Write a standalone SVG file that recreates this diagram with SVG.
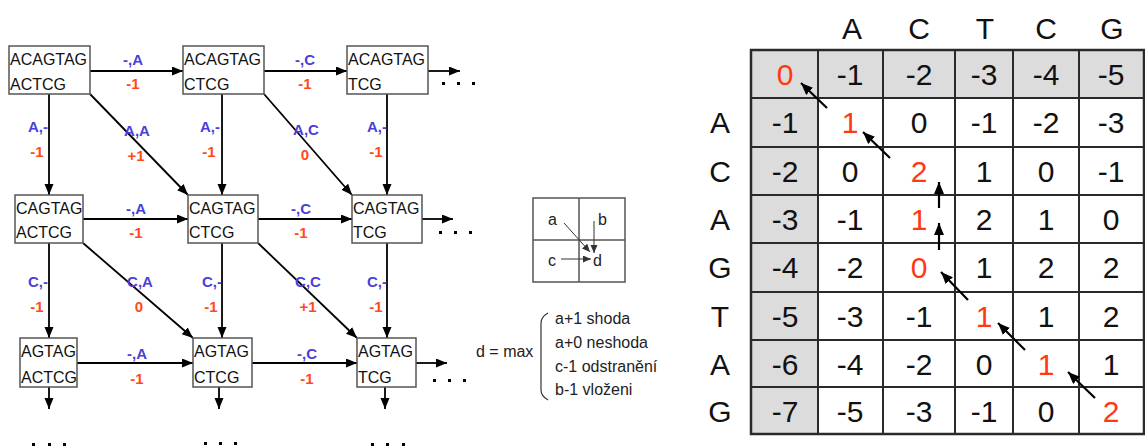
<svg xmlns="http://www.w3.org/2000/svg" width="1145" height="448" viewBox="0 0 1145 448">
<style>
.box{fill:#fff;stroke:#555;stroke-width:1.5}
.bt{font-family:"Liberation Sans",Arial,sans-serif;font-size:16px;fill:#111}
.lb{font-family:"Liberation Sans",Arial,sans-serif;font-size:15px;font-weight:bold;fill:#4a3fd8;text-anchor:middle}
.lr{font-family:"Liberation Sans",Arial,sans-serif;font-size:15px;font-weight:bold;fill:#ff4a1a;text-anchor:middle}
.e{stroke:#000;stroke-width:1.8;fill:none;marker-end:url(#ah)}
.le{stroke:#333;stroke-width:1;fill:none;marker-end:url(#sh)}
.lt{font-family:"Liberation Sans",Arial,sans-serif;font-size:16px;fill:#222}
.lg{fill:none;stroke:#555;stroke-width:1.5}
.cell{fill:#fff;stroke:#2a2a2a;stroke-width:2}
.g{fill:#dcdcdc}
.mt{font-family:"Liberation Sans",Arial,sans-serif;font-size:30px;fill:#111;text-anchor:middle}
.red{fill:#ff3a12}
.ma{stroke:#000;stroke-width:2.2;fill:none;marker-end:url(#mh)}
.dot{fill:#000}
</style>
<defs>
<marker id="ah" markerUnits="userSpaceOnUse" markerWidth="12" markerHeight="10" refX="11" refY="4.5" orient="auto"><path d="M0,0 L11,4.5 L0,9 z" fill="#000"/></marker>
<marker id="sh" markerUnits="userSpaceOnUse" markerWidth="9" markerHeight="8" refX="8" refY="3.5" orient="auto"><path d="M0,0 L8,3.5 L0,7 z" fill="#333"/></marker>
<marker id="mh" markerUnits="userSpaceOnUse" markerWidth="13" markerHeight="11" refX="12" refY="5" orient="auto"><path d="M0,0 L12,5 L0,10 z" fill="#000"/></marker>
</defs>

<g id="connectors">
<!-- horizontal -->
<line class="e" x1="90" y1="71" x2="183" y2="71"/>
<line class="e" x1="264" y1="71" x2="347" y2="71"/>
<line class="e" x1="428" y1="71" x2="460" y2="71"/>
<line class="e" x1="83" y1="219" x2="188" y2="219"/>
<line class="e" x1="258" y1="219" x2="352" y2="219"/>
<line class="e" x1="422" y1="219" x2="453" y2="219"/>
<line class="e" x1="77" y1="363" x2="193" y2="363"/>
<line class="e" x1="252" y1="363" x2="357" y2="363"/>
<line class="e" x1="416" y1="363" x2="447" y2="363"/>
<!-- vertical -->
<line class="e" x1="49" y1="94" x2="49" y2="195"/>
<line class="e" x1="222" y1="94" x2="222" y2="195"/>
<line class="e" x1="387" y1="94" x2="387" y2="195"/>
<line class="e" x1="49" y1="243" x2="49" y2="338"/>
<line class="e" x1="222" y1="243" x2="222" y2="338"/>
<line class="e" x1="387" y1="243" x2="387" y2="338"/>
<line class="e" x1="49" y1="387" x2="49" y2="409"/>
<line class="e" x1="219" y1="387" x2="219" y2="409"/>
<line class="e" x1="385" y1="387" x2="385" y2="409"/>
<!-- diagonal -->
<line class="e" x1="90" y1="94" x2="188" y2="195"/>
<line class="e" x1="264" y1="94" x2="352" y2="195"/>
<line class="e" x1="83" y1="243" x2="193" y2="338"/>
<line class="e" x1="258" y1="243" x2="357" y2="338"/>
</g>

<g id="edge-labels">
<text class="lb" x="133" y="65">-,A</text><text class="lr" x="133" y="89">-1</text>
<text class="lb" x="305" y="65">-,C</text><text class="lr" x="305" y="89">-1</text>
<text class="lb" x="136" y="214">-,A</text><text class="lr" x="136" y="238">-1</text>
<text class="lb" x="301" y="214">-,C</text><text class="lr" x="301" y="238">-1</text>
<text class="lb" x="137" y="359">-,A</text><text class="lr" x="137" y="384">-1</text>
<text class="lb" x="307" y="359">-,C</text><text class="lr" x="307" y="384">-1</text>

<text class="lb" x="38" y="132">A,-</text><text class="lr" x="37" y="157">-1</text>
<text class="lb" x="137" y="136">A,A</text><text class="lr" x="136" y="161">+1</text>
<text class="lb" x="210" y="132">A,-</text><text class="lr" x="209" y="157">-1</text>
<text class="lb" x="306" y="135">A,C</text><text class="lr" x="305" y="160">0</text>
<text class="lb" x="377" y="132">A,-</text><text class="lr" x="376" y="157">-1</text>

<text class="lb" x="38" y="287">C,-</text><text class="lr" x="37" y="312">-1</text>
<text class="lb" x="140" y="287">C,A</text><text class="lr" x="139" y="312">0</text>
<text class="lb" x="212" y="287">C,-</text><text class="lr" x="211" y="312">-1</text>
<text class="lb" x="308" y="287">C,C</text><text class="lr" x="308" y="312">+1</text>
<text class="lb" x="377" y="287">C,-</text><text class="lr" x="376" y="312">-1</text>
</g>

<g id="n11"><rect class="box" x="9" y="46" width="81" height="48"/><text class="bt" x="10" y="65">ACAGTAG</text><text class="bt" x="10" y="90">ACTCG</text></g>
<g id="n12"><rect class="box" x="183" y="46" width="81" height="48"/><text class="bt" x="184" y="65">ACAGTAG</text><text class="bt" x="184" y="90">CTCG</text></g>
<g id="n13"><rect class="box" x="347" y="46" width="81" height="48"/><text class="bt" x="348" y="65">ACAGTAG</text><text class="bt" x="348" y="90">TCG</text></g>
<g id="n21"><rect class="box" x="15" y="195" width="68" height="48"/><text class="bt" x="16" y="214">CAGTAG</text><text class="bt" x="16" y="238">ACTCG</text></g>
<g id="n22"><rect class="box" x="188" y="195" width="70" height="48"/><text class="bt" x="189" y="214">CAGTAG</text><text class="bt" x="189" y="238">CTCG</text></g>
<g id="n23"><rect class="box" x="352" y="195" width="70" height="48"/><text class="bt" x="353" y="214">CAGTAG</text><text class="bt" x="353" y="238">TCG</text></g>
<g id="n31"><rect class="box" x="20" y="338" width="57" height="49"/><text class="bt" x="21" y="357">AGTAG</text><text class="bt" x="21" y="383">ACTCG</text></g>
<g id="n32"><rect class="box" x="193" y="338" width="59" height="49"/><text class="bt" x="194" y="357">AGTAG</text><text class="bt" x="194" y="383">CTCG</text></g>
<g id="n33"><rect class="box" x="357" y="338" width="59" height="49"/><text class="bt" x="358" y="357">AGTAG</text><text class="bt" x="358" y="383">TCG</text></g>

<g id="ellipses">
<rect class="dot" x="442" y="82" width="3" height="3"/><rect class="dot" x="457" y="82" width="3" height="3"/><rect class="dot" x="472" y="82" width="3" height="3"/>
<rect class="dot" x="439" y="231" width="3" height="3"/><rect class="dot" x="454" y="231" width="3" height="3"/><rect class="dot" x="469" y="231" width="3" height="3"/>
<rect class="dot" x="433" y="379" width="3" height="3"/><rect class="dot" x="448" y="379" width="3" height="3"/><rect class="dot" x="463" y="379" width="3" height="3"/>
<rect class="dot" x="32" y="443" width="3" height="3"/><rect class="dot" x="48" y="443" width="3" height="3"/><rect class="dot" x="63" y="443" width="3" height="3"/>
<rect class="dot" x="204" y="442" width="3" height="3"/><rect class="dot" x="219" y="442" width="3" height="3"/><rect class="dot" x="234" y="442" width="3" height="3"/>
<rect class="dot" x="371" y="443" width="3" height="3"/><rect class="dot" x="386" y="443" width="3" height="3"/><rect class="dot" x="402" y="443" width="3" height="3"/>
</g>

<g id="legend">
<rect class="lg" x="533" y="198" width="92" height="84"/>
<line class="lg" x1="579" y1="198" x2="579" y2="282"/>
<line class="lg" x1="533" y1="240" x2="625" y2="240"/>
<text class="lt" x="548" y="225">a</text>
<text class="lt" x="598" y="225">b</text>
<text class="lt" x="548" y="266">c</text>
<text class="lt" x="593" y="266">d</text>
<line class="le" x1="564" y1="223" x2="590" y2="252"/>
<line class="le" x1="594" y1="221" x2="594" y2="253"/>
<line class="le" x1="561" y1="259" x2="591" y2="259"/>
</g>

<g id="formula">
<text class="lt" x="476" y="357">d = max</text>
<path d="M548,313 Q541,317 541,323 L541,390 Q541,396 548,400" fill="none" stroke="#333" stroke-width="1.2"/>
<text class="lt" x="555" y="324">a+1 shoda</text>
<text class="lt" x="555" y="348">a+0 neshoda</text>
<text class="lt" x="555" y="372">c-1 odstranění</text>
<text class="lt" x="555" y="395">b-1 vloženi</text>
</g>

<g id="matrix">
<g id="headers">
<text class="mt" x="852" y="39">A</text>
<text class="mt" x="919" y="39">C</text>
<text class="mt" x="985" y="39">T</text>
<text class="mt" x="1046" y="39">C</text>
<text class="mt" x="1112" y="39">G</text>
<text class="mt" x="720" y="133">A</text>
<text class="mt" x="720" y="182">C</text>
<text class="mt" x="720" y="230">A</text>
<text class="mt" x="720" y="278">G</text>
<text class="mt" x="720" y="327">T</text>
<text class="mt" x="720" y="375">A</text>
<text class="mt" x="720" y="422">G</text>
</g>
<g id="grid">
<rect x="751" y="50" width="393" height="48" class="g"/>
<rect x="751" y="98" width="67" height="336" class="g"/>
<g fill="none" stroke="#2a2a2a" stroke-width="2">
<rect x="751" y="50" width="393" height="384" stroke-width="2.5"/>
<line x1="818" y1="50" x2="818" y2="434"/>
<line x1="883" y1="50" x2="883" y2="434"/>
<line x1="955" y1="50" x2="955" y2="434"/>
<line x1="1013" y1="50" x2="1013" y2="434"/>
<line x1="1079" y1="50" x2="1079" y2="434"/>
<line x1="751" y1="98" x2="1144" y2="98"/>
<line x1="751" y1="147" x2="1144" y2="147"/>
<line x1="751" y1="195" x2="1144" y2="195"/>
<line x1="751" y1="243" x2="1144" y2="243"/>
<line x1="751" y1="292" x2="1144" y2="292"/>
<line x1="751" y1="340" x2="1144" y2="340"/>
<line x1="751" y1="387" x2="1144" y2="387"/>
</g>
</g>
<g id="values">
<text class="mt red" x="785" y="85">0</text><text class="mt" x="850" y="85">-1</text><text class="mt" x="919" y="85">-2</text><text class="mt" x="984" y="85">-3</text><text class="mt" x="1046" y="85">-4</text><text class="mt" x="1111" y="85">-5</text>
<text class="mt" x="785" y="133">-1</text><text class="mt red" x="850" y="133">1</text><text class="mt" x="919" y="133">0</text><text class="mt" x="984" y="133">-1</text><text class="mt" x="1046" y="133">-2</text><text class="mt" x="1111" y="133">-3</text>
<text class="mt" x="785" y="182">-2</text><text class="mt" x="850" y="182">0</text><text class="mt red" x="919" y="182">2</text><text class="mt" x="984" y="182">1</text><text class="mt" x="1046" y="182">0</text><text class="mt" x="1111" y="182">-1</text>
<text class="mt" x="785" y="230">-3</text><text class="mt" x="850" y="230">-1</text><text class="mt red" x="919" y="230">1</text><text class="mt" x="984" y="230">2</text><text class="mt" x="1046" y="230">1</text><text class="mt" x="1111" y="230">0</text>
<text class="mt" x="785" y="278">-4</text><text class="mt" x="850" y="278">-2</text><text class="mt red" x="919" y="278">0</text><text class="mt" x="984" y="278">1</text><text class="mt" x="1046" y="278">2</text><text class="mt" x="1111" y="278">2</text>
<text class="mt" x="785" y="327">-5</text><text class="mt" x="850" y="327">-3</text><text class="mt" x="919" y="327">-1</text><text class="mt red" x="984" y="327">1</text><text class="mt" x="1046" y="327">1</text><text class="mt" x="1111" y="327">2</text>
<text class="mt" x="785" y="375">-6</text><text class="mt" x="850" y="375">-4</text><text class="mt" x="919" y="375">-2</text><text class="mt" x="984" y="375">0</text><text class="mt red" x="1046" y="375">1</text><text class="mt" x="1111" y="375">1</text>
<text class="mt" x="785" y="422">-7</text><text class="mt" x="850" y="422">-5</text><text class="mt" x="919" y="422">-3</text><text class="mt" x="984" y="422">-1</text><text class="mt" x="1046" y="422">0</text><text class="mt red" x="1111" y="422">2</text>
</g>
<g id="path-arrows">
<line class="ma" x1="827" y1="108" x2="801" y2="83"/>
<line class="ma" x1="890" y1="158" x2="863" y2="132"/>
<line class="ma" x1="939" y1="208" x2="939" y2="182"/>
<line class="ma" x1="939" y1="250" x2="939" y2="223"/>
<line class="ma" x1="968" y1="300" x2="941" y2="272"/>
<line class="ma" x1="1025" y1="350" x2="998" y2="323"/>
<line class="ma" x1="1095" y1="398" x2="1068" y2="372"/>
</g>
</g>
</svg>
